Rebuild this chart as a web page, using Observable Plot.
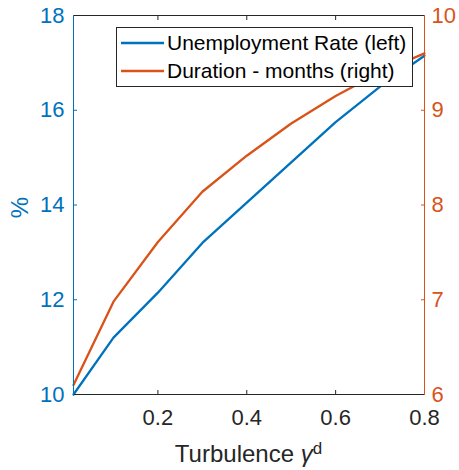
<!DOCTYPE html>
<html>
<head>
<meta charset="utf-8">
<script src="https://cdn.jsdelivr.net/npm/d3@7"></script>
<script src="https://cdn.jsdelivr.net/npm/@observablehq/plot@0.6"></script>
<style>
  body { margin: 0; background: #fff; }
  #chart { width: 459px; height: 470px; }
</style>
</head>
<body>
<div id="chart"></div>
<script>
// Turbulence levels (x) and the two outcomes
const turbulence = [0.01, 0.1, 0.2, 0.3, 0.4, 0.5, 0.6, 0.7, 0.8];
const unemploymentRate = [10.0, 11.2, 12.15, 13.2, 14.05, 14.9, 15.75, 16.5, 17.15];
const durationMonths = [6.1, 6.98, 7.61, 8.14, 8.52, 8.86, 9.15, 9.4, 9.6];
const seriesNames = ["Unemployment Rate (left)", "Duration - months (right)"];

// Tick values
const xTicks = [0.2, 0.4, 0.6, 0.8];
const leftTicks = [10, 12, 14, 16, 18];
const rightTicks = [6, 7, 8, 9, 10];

const BLUE = "#0072BD", ORANGE = "#D95319", INK = "#262626";
const FONT = "'Liberation Sans', Arial, Helvetica, sans-serif";

// The right axis (months) is laid onto the left (%) scale
const leftDomain = [10, 18];
const rightDomain = [6, 10];
const toLeft = d3.scaleLinear(rightDomain, leftDomain);

const unempRows = turbulence.map((t, i) => ({t, v: unemploymentRate[i]}));
const durRows = turbulence.map((t, i) => ({t, v: toLeft(durationMonths[i]), months: durationMonths[i]}));

const inner = (arr) => arr.slice(1, -1);
const blank = () => "";
const TICK = -4; // inward tick marks

const plot = Plot.plot({
  width: 459,
  height: 470,
  marginLeft: 73,
  marginRight: 35,
  marginTop: 15,
  marginBottom: 76,
  style: {fontFamily: FONT, background: "#fff", overflow: "visible"},
  x: {domain: [0.01, 0.8]},
  y: {domain: leftDomain},
  marks: [
    Plot.line(unempRows, {x: "t", y: "v", stroke: BLUE, strokeWidth: 2.3}),
    Plot.line(durRows, {x: "t", y: "v", stroke: ORANGE, strokeWidth: 2.3}),

    // box edges
    Plot.frame({anchor: "top", stroke: INK}),
    Plot.frame({anchor: "bottom", stroke: INK}),
    Plot.frame({anchor: "left", stroke: BLUE}),
    Plot.frame({anchor: "right", stroke: ORANGE}),

    // bottom axis: labels and inward ticks
    Plot.axisX(xTicks, {anchor: "bottom", tickSize: 0, tickPadding: 15, fontSize: 22, color: INK, label: null}),
    Plot.axisX(xTicks.slice(0, -1), {anchor: "bottom", tickSize: TICK, tickFormat: blank, color: INK, label: null}),
    Plot.axisX(xTicks.slice(0, -1), {anchor: "top", tickSize: TICK, tickFormat: blank, color: INK, label: null}),

    // left axis (%)
    Plot.axisY(leftTicks, {anchor: "left", tickSize: 0, tickPadding: 9, fontSize: 22, color: BLUE, label: null}),
    Plot.axisY(inner(leftTicks), {anchor: "left", tickSize: TICK, tickFormat: blank, color: BLUE, label: null}),

    // right axis (months)
    Plot.axisY(rightTicks.map(toLeft), {anchor: "right", tickSize: 0, tickPadding: 7, fontSize: 22, color: ORANGE, label: null,
      tickFormat: v => d3.format("d")(toLeft.invert(v))}),
    Plot.axisY(inner(rightTicks).map(toLeft), {anchor: "right", tickSize: TICK, tickFormat: blank, color: ORANGE, label: null})
  ]
});

document.getElementById("chart").appendChild(plot);

// Axis titles and legend
const svg = d3.select(plot);
const xr = plot.scale("x").range;
const yr = plot.scale("y").range;
const frameLeft = Math.min(...xr), frameRight = Math.max(...xr);
const frameTop = Math.min(...yr), frameBottom = Math.max(...yr);

const xLabel = svg.append("text")
  .attr("x", (frameLeft + frameRight) / 2)
  .attr("y", frameBottom + 68)
  .attr("text-anchor", "middle")
  .attr("fill", INK)
  .style("font-family", FONT)
  .style("font-size", "24px");
xLabel.append("tspan").text("Turbulence ");
xLabel.append("tspan").text("γ").style("font-style", "italic");
xLabel.append("tspan").text("d").attr("dy", "-0.45em").style("font-size", "17px");

svg.append("text")
  .attr("transform", `translate(${frameLeft - 45},${(frameTop + frameBottom) / 2 + 3}) rotate(-90)`)
  .attr("text-anchor", "middle")
  .attr("fill", BLUE)
  .style("font-family", FONT)
  .style("font-size", "24px")
  .text("%");

const legend = svg.append("g").attr("transform", `translate(${frameRight - 308},${frameTop + 12})`);
legend.append("rect")
  .attr("x", 0.5).attr("y", 0.5)
  .attr("width", 296).attr("height", 59)
  .attr("fill", "#fff").attr("stroke", INK).attr("stroke-width", 1);
[[seriesNames[0], BLUE], [seriesNames[1], ORANGE]].forEach(([name, color], i) => {
  const cy = 16 + i * 28;
  legend.append("line")
    .attr("x1", 5).attr("x2", 48).attr("y1", cy).attr("y2", cy)
    .attr("stroke", color).attr("stroke-width", 2.3);
  legend.append("text")
    .attr("x", 51).attr("y", cy).attr("dy", "0.35em")
    .attr("text-anchor", "start")
    .attr("fill", "#000")
    .style("font-family", FONT)
    .style("font-size", "21px")
    .text(name);
});
</script>
</body>
</html>
